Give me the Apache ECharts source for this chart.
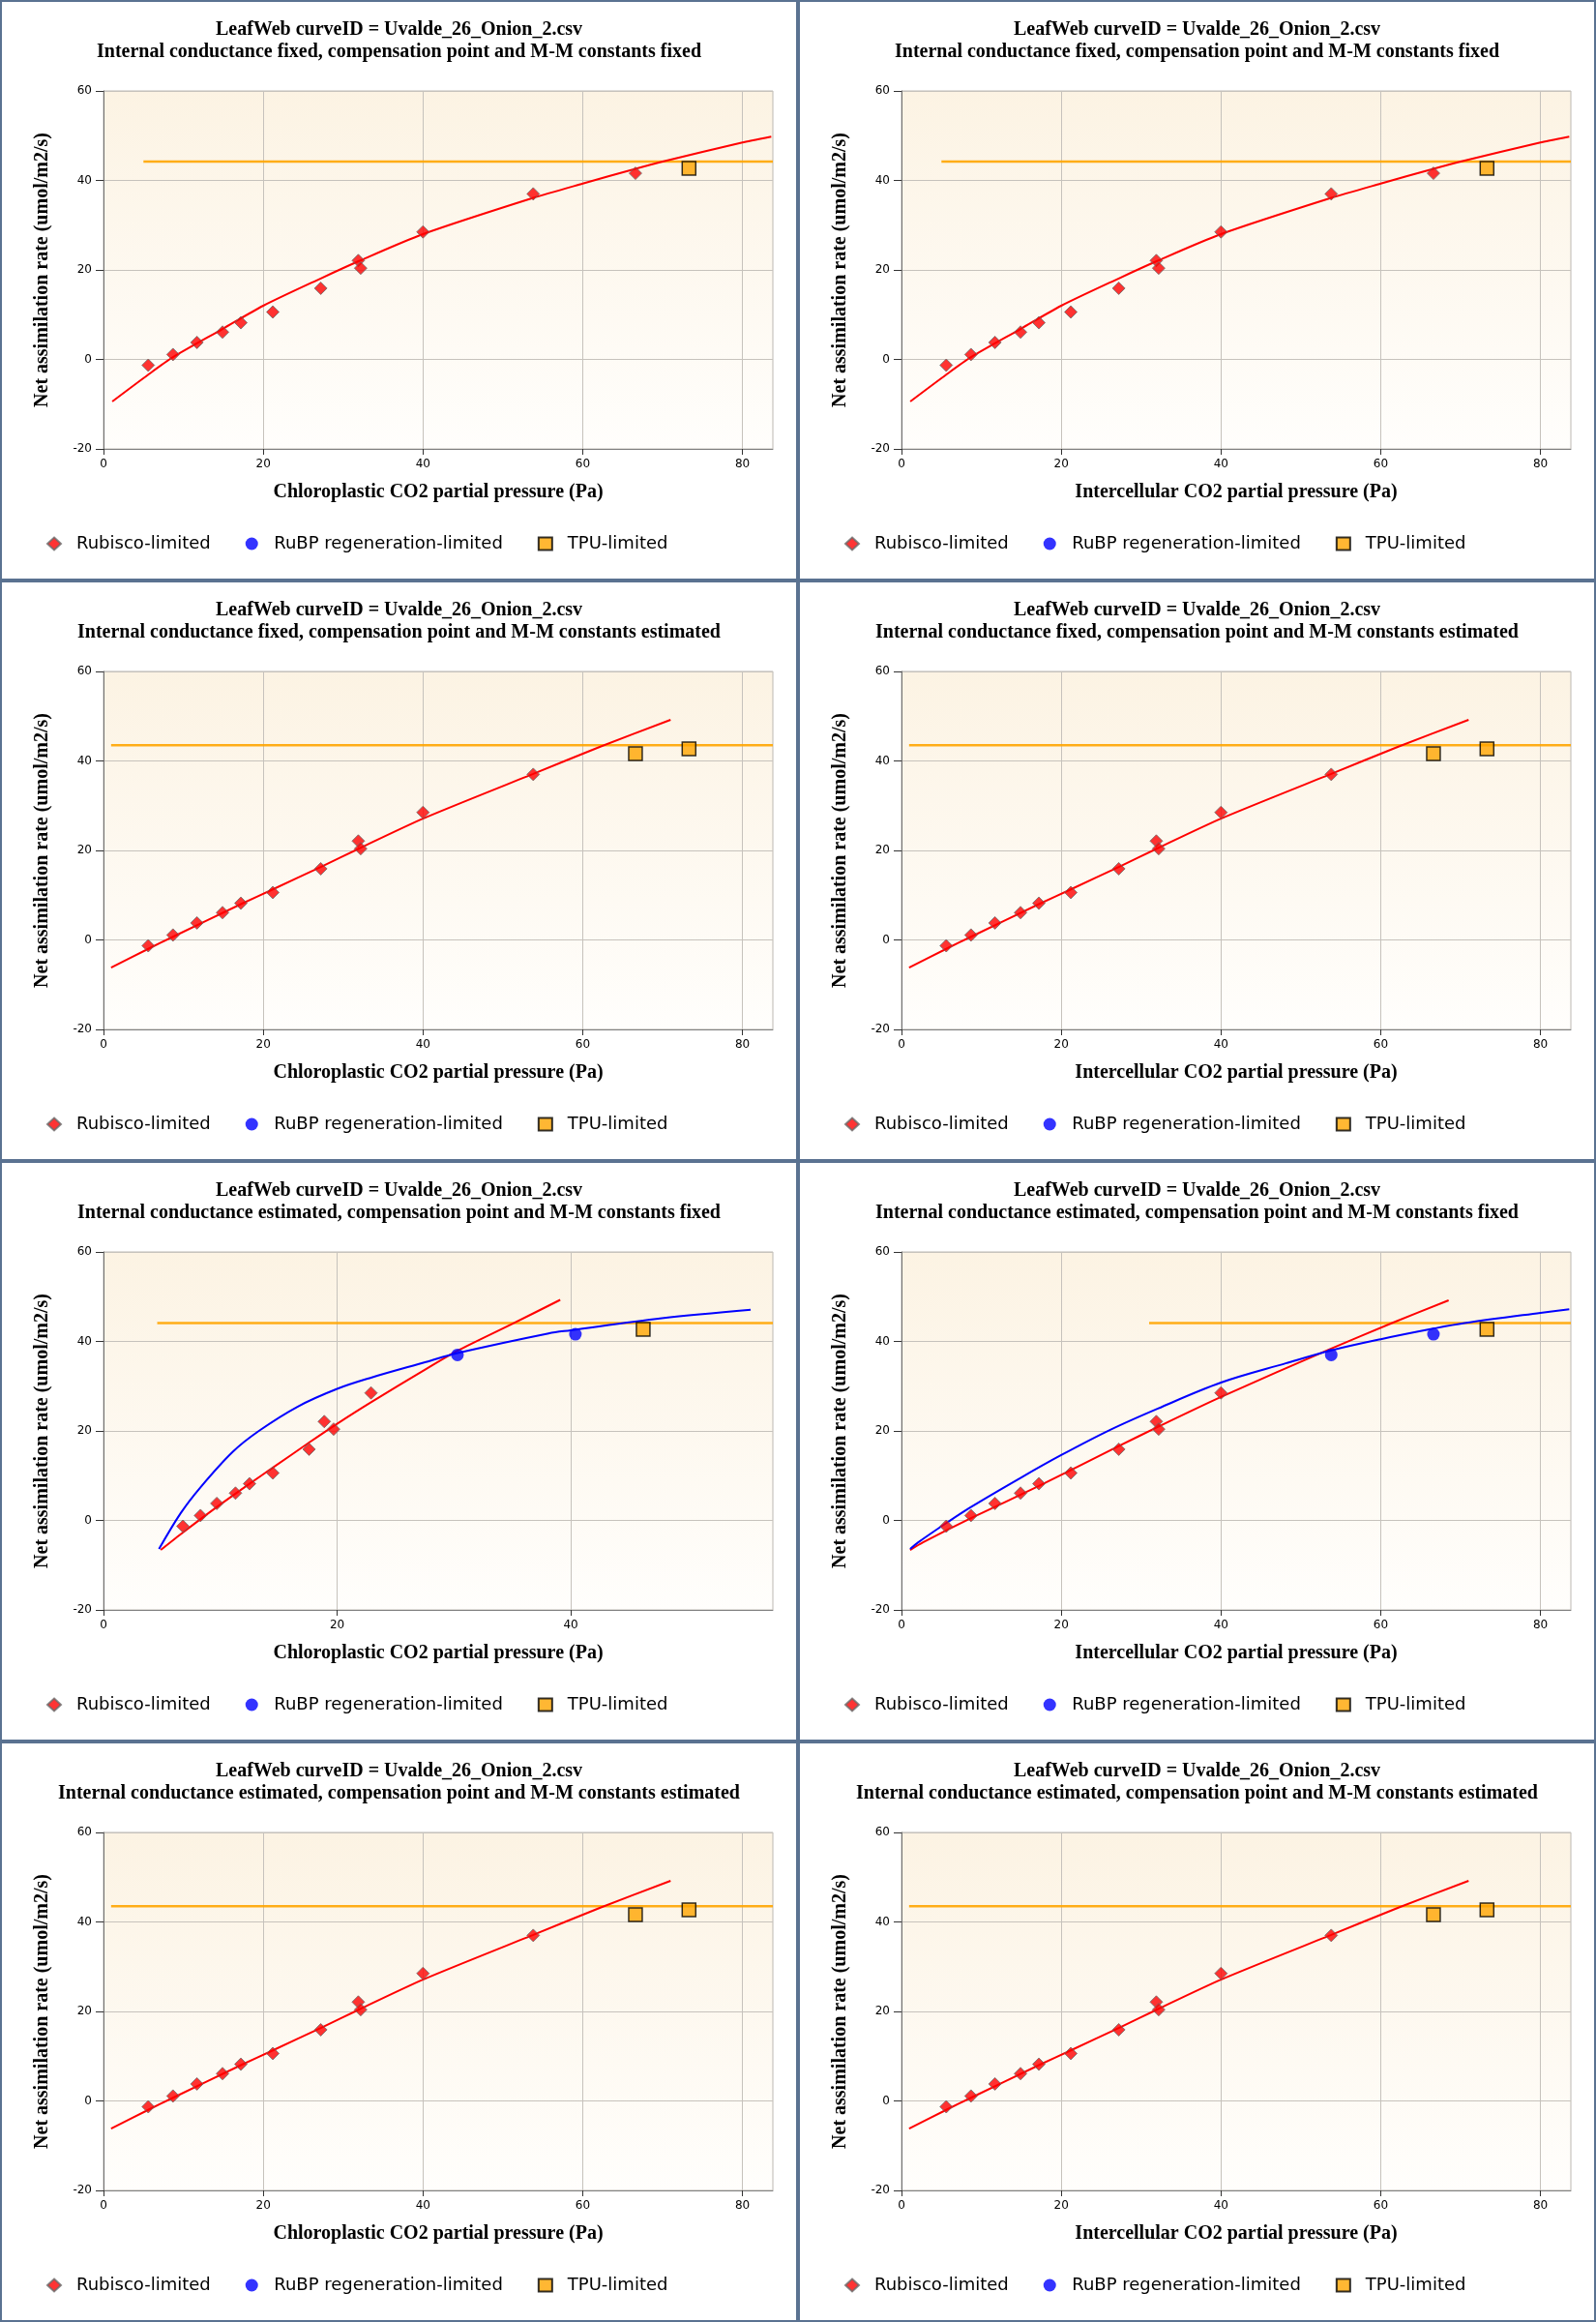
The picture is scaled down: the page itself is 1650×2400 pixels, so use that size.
<!DOCTYPE html>
<html lang="en">
<head>
<meta charset="UTF-8" />
<title>LeafWeb Uvalde_26_Onion_2</title>
<script src="https://cdn.jsdelivr.net/npm/echarts@6/dist/echarts.min.js"></script>
<style>
  html, body { margin: 0; padding: 0; background: #fff; }
  #wrap { width: 1650px; height: 2400px; display: flex; flex-wrap: wrap; }
  .panel { width: 825px; height: 600px; box-sizing: border-box; border: 2px solid #5a7291; }
</style>
</head>
<body>
<div id="wrap"></div>
<script>
// measured points (same order everywhere)
const ciValues = [5.6, 8.7, 11.7, 14.9, 17.2, 21.2, 27.2, 31.9, 32.2, 40.0, 53.8, 66.6, 73.3];
const ccGmEstValues = [6.8, 8.3, 9.7, 11.3, 12.5, 14.5, 17.6, 18.9, 19.7, 22.9, 30.3, 40.4, 46.2];
const netA = [-1.3, 1.1, 3.8, 6.1, 8.2, 10.6, 15.9, 22.1, 20.4, 28.5, 37.0, 41.6, 42.7];

// which limitation each point was assigned to (R rubisco, J RuBP, T TPU)
const limAllFixed = ['R','R','R','R','R','R','R','R','R','R','R','R','T'];
const limKmEst    = ['R','R','R','R','R','R','R','R','R','R','R','T','T'];
const limGmEst    = ['R','R','R','R','R','R','R','R','R','R','J','J','T'];

// fitted curves
const rubFitFixed = [[1.1,-9.4],[5.6,-3.4],[8.7,0.5],[14.9,6.8],[20,12.0],[27.2,18.1],[32,22.0],[40,28.0],[53.8,36.1],[60,39.3],[66.6,42.6],[70,44.2],[80,48.5],[83.6,49.8]];
const rubFitKmEst = [[0.95,-6.2],[5.6,-2.0],[8.7,0.7],[17.2,8.0],[21.2,11.3],[27.2,16.3],[32.2,20.6],[40,27.1],[53.8,37.1],[62.2,43.2],[71.0,49.2]];
const rubFitGmCc = [[4.9,-6.6],[6.8,-2.7],[9.7,3.0],[12.5,8.2],[14.5,11.8],[17.6,17.4],[20,21.6],[22.9,26.4],[27.6,33.8],[30.3,37.9],[34.9,43.8],[39.1,49.3]];
const rubpFitGmCc = [[4.75,-6.4],[6.6,1.6],[8.3,7.4],[11.05,15.3],[13.3,20.0],[16.6,25.4],[20,29.4],[22.9,31.9],[27.6,35.4],[30.3,37.4],[38.1,41.8],[40,42.5],[47.8,45.2],[55.4,47.1]];
const rubFitGmCi = [[1.08,-6.6],[2.7,-4.9],[8.7,0.5],[17.2,7.7],[27.2,16.6],[32.2,21.0],[40,27.6],[53.8,38.4],[61.4,44.1],[68.5,49.2]];
const rubpFitGmCi = [[1.08,-6.4],[2.1,-4.9],[5.6,-0.6],[8.7,3.0],[14.9,9.5],[20,14.6],[26.2,20.3],[32.1,25.0],[40,30.8],[48.1,35.1],[53.8,38.0],[60,40.5],[66.7,42.9],[70.5,44.1],[80,46.4],[83.6,47.2]];

// TPU limit lines [x start, x end, A]
const tpuFixed = [5.0, 83.8, 44.2];
const tpuKmEst = [0.95, 83.8, 43.5];
const tpuGmCc  = [4.6, 57.3, 44.1];
const tpuGmCi  = [31.0, 83.8, 44.1];

const yTicks = [-20, 0, 20, 40, 60];
const xTicksWide = [0, 20, 40, 60, 80];
const xTicksNarrow = [0, 20, 40];

const titleTop = 'LeafWeb curveID = Uvalde_26_Onion_2.csv';
const ccName = 'Chloroplastic CO2 partial pressure (Pa)';
const ciName = 'Intercellular CO2 partial pressure (Pa)';
const yName = 'Net assimilation rate (umol/m2/s)';

const panels = [
  { sub: 'Internal conductance fixed, compensation point and M-M constants fixed', xName: ccName, x: ciValues, lim: limAllFixed, xMax: 83.8, xt: xTicksWide, rub: rubFitFixed, rubp: null, tpu: tpuFixed },
  { sub: 'Internal conductance fixed, compensation point and M-M constants fixed', xName: ciName, x: ciValues, lim: limAllFixed, xMax: 83.8, xt: xTicksWide, rub: rubFitFixed, rubp: null, tpu: tpuFixed },
  { sub: 'Internal conductance fixed, compensation point and M-M constants estimated', xName: ccName, x: ciValues, lim: limKmEst, xMax: 83.8, xt: xTicksWide, rub: rubFitKmEst, rubp: null, tpu: tpuKmEst },
  { sub: 'Internal conductance fixed, compensation point and M-M constants estimated', xName: ciName, x: ciValues, lim: limKmEst, xMax: 83.8, xt: xTicksWide, rub: rubFitKmEst, rubp: null, tpu: tpuKmEst },
  { sub: 'Internal conductance estimated, compensation point and M-M constants fixed', xName: ccName, x: ccGmEstValues, lim: limGmEst, xMax: 57.3, xt: xTicksNarrow, rub: rubFitGmCc, rubp: rubpFitGmCc, tpu: tpuGmCc },
  { sub: 'Internal conductance estimated, compensation point and M-M constants fixed', xName: ciName, x: ciValues, lim: limGmEst, xMax: 83.8, xt: xTicksWide, rub: rubFitGmCi, rubp: rubpFitGmCi, tpu: tpuGmCi },
  { sub: 'Internal conductance estimated, compensation point and M-M constants estimated', xName: ccName, x: ciValues, lim: limKmEst, xMax: 83.8, xt: xTicksWide, rub: rubFitKmEst, rubp: null, tpu: tpuKmEst },
  { sub: 'Internal conductance estimated, compensation point and M-M constants estimated', xName: ciName, x: ciValues, lim: limKmEst, xMax: 83.8, xt: xTicksWide, rub: rubFitKmEst, rubp: null, tpu: tpuKmEst }
];

const serif = 'Liberation Serif, Times New Roman, serif';
const sans = 'DejaVu Sans, Verdana, sans-serif';

function pick(p, code) {
  let out = [];
  p.x.forEach((x, i) => {
    if (p.lim[i] === code) out.push([x, netA[i]]);
  });
  return out;
}

function fitLine(data, color, width, smooth) {
  return {
    type: 'line', data: data, showSymbol: false, silent: true, smooth: smooth, z: 1,
    lineStyle: { color: color, width: width }
  };
}

function makeOption(p) {
  let series = [
    fitLine([[p.tpu[0], p.tpu[2]], [p.tpu[1], p.tpu[2]]], 'rgba(255,165,0,0.9)', 2.5, false),
    fitLine(p.rub, '#ff0000', 2, 0.25)
  ];
  if (p.rubp) series.push(fitLine(p.rubp, '#0000ff', 2, 0.35));
  series.push(
    {
      name: 'Rubisco-limited', type: 'scatter', symbol: 'diamond', symbolSize: 13, z: 3,
      data: pick(p, 'R'),
      itemStyle: { color: '#ff0000', borderColor: '#6a6a6a', borderWidth: 1 }
    },
    {
      name: 'RuBP regeneration-limited', type: 'scatter', symbol: 'circle', symbolSize: 13, z: 3,
      data: pick(p, 'J'),
      itemStyle: { color: '#0000ff' }
    },
    {
      name: 'TPU-limited', type: 'scatter', symbol: 'rect', symbolSize: 14, z: 3,
      data: pick(p, 'T'),
      itemStyle: { color: '#ffa500', borderColor: '#000', borderWidth: 1.5 }
    }
  );
  return {
    animation: false,
    title: {
      text: titleTop + '\n' + p.sub,
      left: 'center', top: 17, padding: 0,
      textStyle: { fontFamily: serif, fontWeight: 'bold', fontSize: 20, lineHeight: 23, color: '#000' }
    },
    legend: {
      data: ['Rubisco-limited', 'RuBP regeneration-limited', 'TPU-limited'],
      left: 41, top: 546, itemWidth: 14, itemHeight: 13, itemGap: 36,
      formatter: name => '{t|' + name + '}',
      textStyle: {
        fontFamily: sans, fontSize: 18, color: '#000',
        rich: { t: { fontFamily: sans, fontSize: 18, color: '#000', padding: [0, 0, 0, 11] } }
      }
    },
    grid: {
      left: 105, top: 92, width: 692, height: 370, show: true,
      borderColor: '#bcb8b2', borderWidth: 1,
      backgroundColor: new echarts.graphic.LinearGradient(0, 0, 0, 1, [
        { offset: 0, color: '#fcf3e3' },
        { offset: 1, color: '#fffefc' }
      ])
    },
    xAxis: {
      type: 'value', min: 0, max: p.xMax, interval: 20,
      name: p.xName, nameLocation: 'middle', nameGap: 35,
      nameTextStyle: { fontFamily: serif, fontWeight: 'bold', fontSize: 20, color: '#000' },
      axisLine: { onZero: false, lineStyle: { color: '#808080', width: 1 } },
      axisTick: { length: 6, customValues: p.xt, lineStyle: { color: '#333' } },
      axisLabel: { margin: 10, customValues: p.xt, fontFamily: sans, fontSize: 12, color: '#000' },
      splitLine: { lineStyle: { color: '#c6c2bc' } }
    },
    yAxis: {
      type: 'value', min: -20, max: 60, interval: 20,
      name: yName, nameLocation: 'middle', nameGap: 53,
      nameTextStyle: { fontFamily: serif, fontWeight: 'bold', fontSize: 20, color: '#000' },
      axisLine: { show: true, lineStyle: { color: '#707070', width: 1 } },
      axisTick: { show: true, length: 8, customValues: yTicks, lineStyle: { color: '#333' } },
      axisLabel: { margin: 12, customValues: yTicks, fontFamily: sans, fontSize: 12, color: '#000' },
      splitLine: { lineStyle: { color: '#c6c2bc' } }
    },
    series: series
  };
}

let wrap = document.getElementById('wrap');
panels.forEach(p => {
  let div = document.createElement('div');
  div.className = 'panel';
  wrap.appendChild(div);
  let chart = echarts.init(div);
  chart.setOption(makeOption(p));
});
</script>
</body>
</html>
